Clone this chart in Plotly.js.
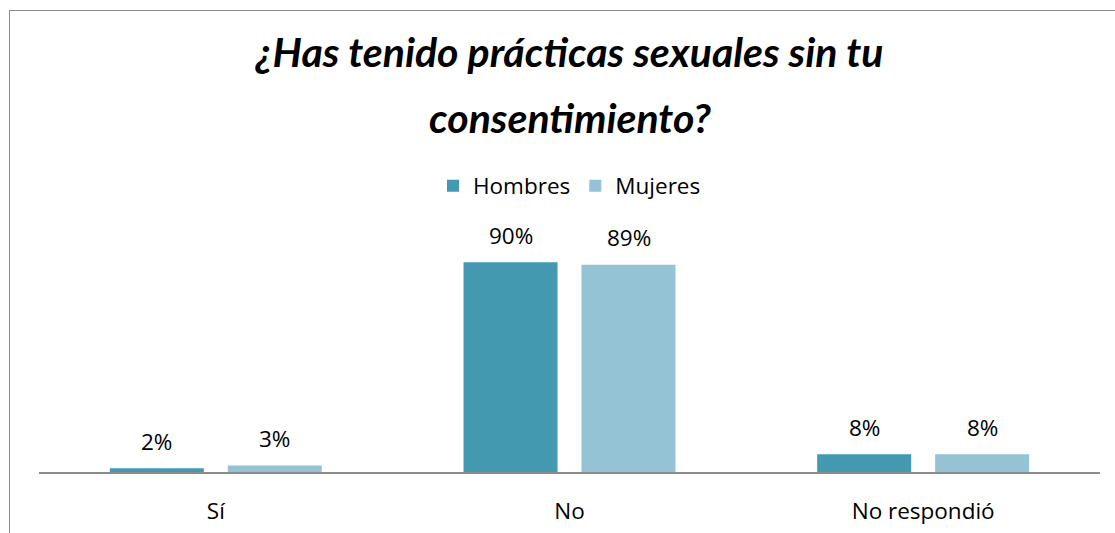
<!DOCTYPE html>
<html>
<head>
<meta charset="utf-8">
<script src="https://cdn.plot.ly/plotly-3.0.1.min.js"></script>
<style>
  html, body { margin: 0; padding: 0; background: #fff; }
  #chart { width: 1115px; height: 533px; position: absolute; left: 0; top: 0; }
  #frame { position: absolute; left: 9px; top: 10px; width: 1110px; height: 530px;
           border-left: 1.5px solid #8c8c8c; border-top: 1.5px solid #8c8c8c; pointer-events: none; }
</style>
</head>
<body>
<div id="chart"></div>
<div id="frame"></div>
<script>
const categories = ["Sí", "No", "No respondió"];
const seriesNames = ["Hombres", "Mujeres"];
const hombres = [1.6, 90.0, 7.6];
const mujeres = [2.8, 89.0, 7.6];
const seriesColors = ["#4399b0", "#93c3d4"];

const labelFont = { family: "Open Sans, sans-serif", size: 22.5, color: "#000000" };
const titleFont = { family: "Lato, sans-serif", size: 41, color: "#000000", weight: 700, style: "italic" };

const allValues = [hombres, mujeres];
const traces = allValues.map((vals, i) => ({
  type: "bar",
  name: seriesNames[i],
  x: categories,
  y: vals,
  marker: { color: seriesColors[i], line: { width: 0 } },
  hoverinfo: "skip"
}));

const annotations = [];
allValues.forEach((vals, i) => {
  vals.forEach((v, j) => {
    annotations.push({
      x: categories[j], y: v, xref: "x", yref: "y",
      text: Math.round(v) + "%",
      showarrow: false,
      xshift: i === 0 ? -59 : 59,
      yshift: 27,
      yanchor: "middle",
      font: labelFont
    });
  });
});
annotations.push({
  x: 0.5, xref: "paper", y: (472 - 117) / 233, yref: "paper",
  text: "consentimiento?", showarrow: false, yanchor: "middle", xanchor: "center",
  font: titleFont
});

const layout = {
  width: 1115, height: 533,
  margin: { l: 39, r: 15, t: 239, b: 61, pad: 0 },
  paper_bgcolor: "#ffffff", plot_bgcolor: "#ffffff",
  title: {
    text: "¿Has tenido prácticas sexuales sin tu",
    font: titleFont,
    x: 0.5, xref: "paper", xanchor: "center",
    y: 1 - 53 / 533, yref: "container", yanchor: "middle"
  },
  barmode: "group",
  bargap: 0.333,
  bargroupgap: 0.203,
  showlegend: true,
  legend: {
    orientation: "h", x: 0.5, xanchor: "center",
    y: (472 - 186) / 233, yanchor: "middle",
    font: labelFont, bgcolor: "rgba(0,0,0,0)"
  },
  xaxis: {
    type: "category",
    range: [-0.5, 2.5],
    showline: true, linecolor: "#8c8c8c", linewidth: 1.5,
    showgrid: false, zeroline: false,
    ticks: "", ticklabelstandoff: 18,
    tickfont: labelFont, fixedrange: true
  },
  yaxis: {
    range: [0, 100],
    visible: false, showgrid: false, zeroline: false, fixedrange: true
  },
  annotations: annotations
};

Plotly.newPlot("chart", traces, layout, { displayModeBar: false, staticPlot: true });
</script>
</body>
</html>
